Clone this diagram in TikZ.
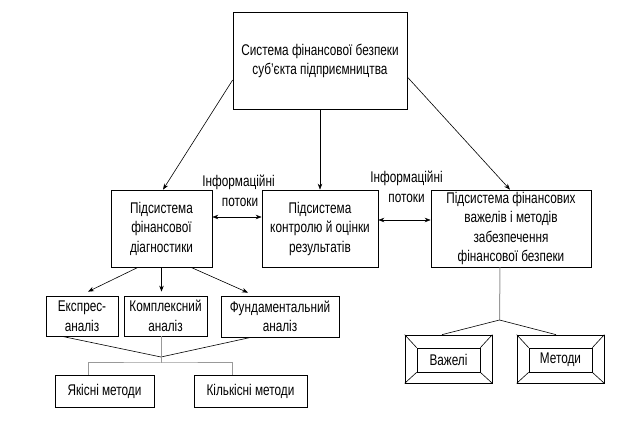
\documentclass[tikz,border=0pt]{standalone}
\usepackage{fontspec}
\setmainfont[FakeStretch=0.76]{Liberation Sans}
\usetikzlibrary{arrows.meta}
\begin{document}
\begin{tikzpicture}[x=1pt,y=-1pt,
  every node/.style={font=\fontsize{15.5}{19.5}\selectfont, align=center, inner sep=0pt},
  bx/.style={draw, line width=0.7pt},
  ln/.style={line width=0.6pt},
  arr/.style={line width=0.6pt, -{Stealth[length=6pt,width=4.5pt]}},
  dbl/.style={line width=0.6pt, {Stealth[length=6pt,width=4.5pt]}-{Stealth[length=6pt,width=4.5pt]}},
  gr/.style={draw=black!40, line width=1pt},
  lbl/.style={fill=white, inner sep=1pt}]
\useasboundingbox (0,0) rectangle (625,422);

\node[bx, minimum width=174, minimum height=97] (top) at (320,61) {Система фінансової безпеки\\суб'єкта підприємництва};
\node[bx, minimum width=101, minimum height=77] (diag) at (161.5,228.5) {Підсистема\\фінансової\\діагностики};
\node[bx, minimum width=116, minimum height=77] (ctrl) at (320,228.5) {Підсистема\\контролю й оцінки\\результатів};
\node[bx, minimum width=160, minimum height=77] (right) at (511,228.5) {Підсистема фінансових\\важелів і методів\\забезпечення\\фінансової безпеки};

\node[bx, minimum width=72, minimum height=40] (expr) at (82,316) {Експрес-\\аналіз};
\node[bx, minimum width=83, minimum height=40] (cplx) at (165.5,316) {Комплексний\\аналіз};
\node[bx, minimum width=118, minimum height=41] (fund) at (280,316.5) {Фундаментальний\\аналіз};

\node[bx, minimum width=99, minimum height=32] (yak) at (104.5,391) {Якісні методи};
\node[bx, minimum width=113, minimum height=32] (kil) at (250.5,391) {Кількісні методи};

% framed boxes
\node[bx, minimum width=87, minimum height=48] (vaz) at (448.5,359) {};
\node[bx, minimum width=63, minimum height=24] (vazi) at (448.5,360) {Важелі};
\node[bx, minimum width=87, minimum height=48] (met) at (560.5,359) {};
\node[bx, minimum width=63, minimum height=24] (meti) at (560.5,360) {Методи};
\foreach \o/\i in {vaz/vazi, met/meti}{
  \draw[ln] (\o.north west) -- (\i.north west);
  \draw[ln] (\o.north east) -- (\i.north east);
  \draw[ln] (\o.south west) -- (\i.south west);
  \draw[ln] (\o.south east) -- (\i.south east);
}

% top arrows
\draw[arr] ([yshift=-19pt]top.west) -- ([xshift=1.5pt]diag.north);
\draw[arr] (top.south) -- (ctrl.north);
\draw[arr] ([yshift=-16pt]top.east) -- ([xshift=-1pt]right.north);

% information flows
\draw[dbl] ([yshift=11.5pt]diag.east) -- ([yshift=11.5pt]ctrl.west);
\draw[dbl] ([yshift=8.5pt]ctrl.east) -- ([yshift=8.5pt]right.west);
\node[lbl] (l1a) at (238.5,182) {Інформаційні};
\node[lbl] (l1b) at (240,202) {потоки};
\node[lbl] (l2a) at (406.5,178) {Інформаційні};
\node[lbl] (l2b) at (406.5,198) {потоки};

% diagnostics to analyses
\draw[arr] ([xshift=-23.5pt]diag.south) -- ([xshift=6pt,yshift=4pt]expr.north);
\draw[arr] (diag.south) -- ([yshift=4pt]diag.south |- cplx.north);
\draw[arr] ([xshift=29.5pt]diag.south) -- ([xshift=-32pt,yshift=3pt]fund.north);

% analyses to methods
\coordinate (j1) at (161,357);
\coordinate (j2) at (161,363);
\draw[ln] ([xshift=-20pt]expr.south) -- (j1);
\draw[ln] ([xshift=-29pt]fund.south) -- (j1);
\draw[gr] ([xshift=-4.5pt]cplx.south) -- (j2);
\draw[gr] ([xshift=-16.5pt]yak.north) |- (j2) -| ([xshift=-18.5pt]kil.north);

% right subsystem to tools
\coordinate (j3) at (499.5,320);
\draw[gr] ([xshift=-11pt]right.south) -- (j3);
\draw[ln] (j3) -- ([xshift=-6.5pt]vaz.north);
\draw[ln] (j3) -- ([xshift=-4.5pt]met.north);
\end{tikzpicture}
\end{document}
